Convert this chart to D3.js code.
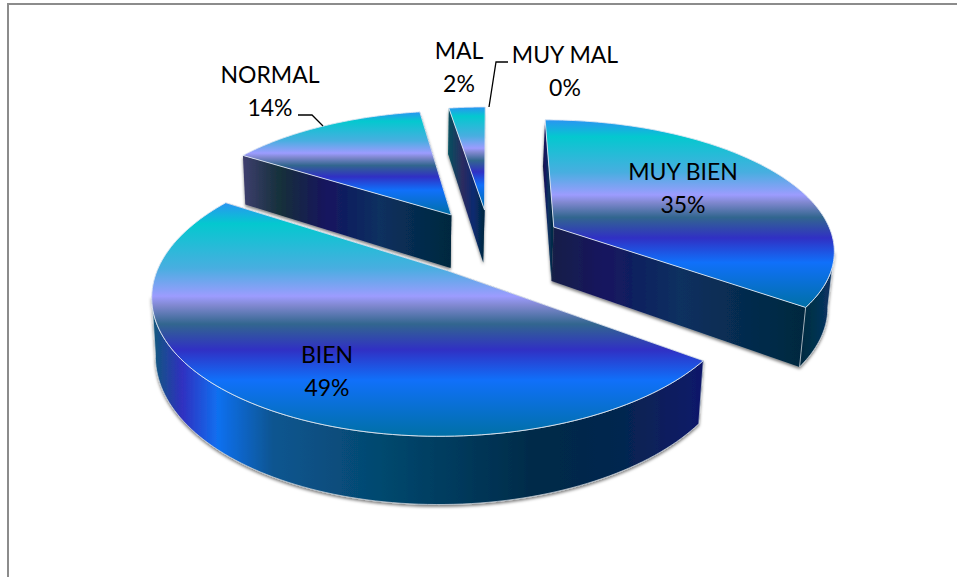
<!DOCTYPE html>
<html>
<head>
<meta charset="utf-8">
<script src="https://cdn.jsdelivr.net/npm/d3@7/dist/d3.min.js"></script>
<style>
html, body { margin: 0; padding: 0; background: #fff; overflow: hidden; }
text { font-family: Lato, "Open Sans", sans-serif; font-size: 23px; fill: #000; text-anchor: middle; }
</style>
</head>
<body>
<svg id="chart" width="957" height="577"></svg>
<script>
var categories = ["MUY BIEN", "BIEN", "NORMAL", "MAL", "MUY MAL"];
// labels show them rounded
var percents = [35, 49, 13.51, 2.49, 0];

var topStops = [[0, "#2a94f2"], [0.09, "#04c8cf"], [0.28, "#48aee0"], [0.40, "#9c9cfe"], [0.44, "#8088d0"], [0.52, "#32668f"], [0.63, "#3030c4"], [0.76, "#1070fa"], [1, "#0070a6"]];
var cutStops = [[0, "#3e3e6e"], [0.18, "#15303a"], [0.4, "#14145e"], [0.65, "#0a3060"], [1, "#02283e"]];
var cutRightStops = [[0, "#182048"], [0.2, "#15155e"], [0.5, "#0a3060"], [1, "#02283e"]];
var cutSmallStops = [[0, "#05505e"], [0.4, "#2c2c60"], [0.7, "#0a2a70"], [1, "#02283e"]];
var outerLeftStops = [[0, "#0f5a78"], [0.055, "#3030c0"], [0.12, "#1070f0"], [0.22, "#0a5590"], [0.42, "#05486e"], [0.7, "#002a48"], [0.85, "#05264f"], [1, "#10186a"]];
var outerRightStops = [[0, "#022a40"], [0.35, "#02304a"], [1, "#0a3468"]];

var svg = d3.select("#chart");

/* Projection of the tilted disc */
var perspective = 0.16;
var explode = 0.26;
var lean = 0.015;
var xScale = d3.scaleLinear().domain([-1, 1]).range([209.5, 770.5]);
var yScale = d3.scaleLinear().domain([0, 1]).range([-563, 242]);
var zScale = d3.scaleLinear().domain([0, 1]).range([0, 55]);
var leanX = 400;

function project(r, angle, mid, z) {
    var X = r * Math.sin(angle) + explode * Math.sin(mid);
    var Y = -r * Math.cos(angle) - explode * Math.cos(mid);
    var w = 1 - perspective * Y;
    var sx = xScale(X / w);
    return [sx + (leanX - sx) * lean * z, yScale(1 / w) + zScale(z) / w];
}

/* Gradients */
var defs = svg.append("defs");
function addGradient(id, stops, vertical) {
    var g = defs.append("linearGradient")
        .attr("id", id)
        .attr("x1", 0).attr("y1", 0)
        .attr("x2", vertical ? 0 : 1)
        .attr("y2", vertical ? 1 : 0);
    g.selectAll("stop")
        .data(stops)
        .enter()
        .append("stop")
        .attr("offset", d => d[0])
        .attr("stop-color", d => d[1]);
}
addGradient("gradTop", topStops, true);
addGradient("gradCut", cutStops, false);
addGradient("gradCutRight", cutRightStops, false);
addGradient("gradCutSmall", cutSmallStops, false);
addGradient("gradOuterLeft", outerLeftStops, false);
addGradient("gradOuterRight", outerRightStops, false);

defs.append("filter")
    .attr("id", "shadow")
    .attr("x", "-10%").attr("y", "-10%")
    .attr("width", "120%").attr("height", "120%")
    .append("feDropShadow")
    .attr("dx", 0).attr("dy", 2)
    .attr("stdDeviation", 1.8)
    .attr("flood-color", "#000")
    .attr("flood-opacity", 0.5);

/* Frame, only top and left are in the picture */
svg.append("path")
    .attr("d", "M8,577V4H957")
    .attr("fill", "none")
    .attr("stroke", "#8c8c8c")
    .attr("stroke-width", 2);

/* Slices */
var pie = d3.pie().sort(null).value(d => d).startAngle(0).endAngle(2 * Math.PI);
var arcs = pie(percents);
var line = d3.line().curve(d3.curveLinear);

function rim(d, z, n) {
    var mid = (d.startAngle + d.endAngle) / 2;
    return d3.range(n + 1).map(i => project(1, d.startAngle + (d.endAngle - d.startAngle) * i / n, mid, z));
}
function cutWall(d, angle) {
    var mid = (d.startAngle + d.endAngle) / 2;
    return [project(0, 0, mid, 0), project(1, angle, mid, 0), project(1, angle, mid, 1), project(0, 0, mid, 1)];
}
// only the part of the rim that faces the viewer, i.e. where x runs backwards
function frontRim(d, n) {
    var upper = rim(d, 0, n);
    var lower = rim(d, 1, n);
    var keep = d3.range(n + 1).filter(k => (k < n && upper[k + 1][0] < upper[k][0]) || (k > 0 && upper[k][0] < upper[k - 1][0]));
    return keep.map(k => upper[k]).concat(keep.map(k => lower[k]).reverse());
}
var cutFill = ["url(#gradCutRight)", "url(#gradCut)", "url(#gradCut)", "url(#gradCutSmall)"];

/* far slices first, BIEN is in front of everything */
var order = [3, 2, 0, 1];
order.forEach(function(i) {
    var d = arcs[i];
    var g = svg.append("g").attr("class", "slice").datum(d);
    var walls = g.append("g").attr("filter", "url(#shadow)");

    // the cut that sits nearer the viewer goes on last
    var angles = [d.startAngle, d.endAngle].sort((a, b) => Math.cos(b) - Math.cos(a));
    angles.forEach(function(a) {
        walls.append("path")
            .attr("d", line(cutWall(d, a)) + "Z")
            .attr("fill", cutFill[i]);
    });

    var front = frontRim(d, 120);
    if (front.length > 0) {
        walls.append("path")
            .attr("d", line(front) + "Z")
            .attr("fill", i === 1 ? "url(#gradOuterLeft)" : "url(#gradOuterRight)")
            .attr("stroke", "#c8d0d8")
            .attr("stroke-width", 0.75);
    }

    var mid = (d.startAngle + d.endAngle) / 2;
    g.append("path")
        .attr("d", line([project(0, 0, mid, 0)].concat(rim(d, 0, 120))) + "Z")
        .attr("fill", "url(#gradTop)")
        .attr("stroke", "#dfe6f2")
        .attr("stroke-width", 0.9);
});

/* Leader lines */
var leader = d3.line();
svg.append("path")
    .attr("d", leader([[489, 107], [496, 62], [508, 62]]))
    .attr("fill", "none").attr("stroke", "#000").attr("stroke-width", 1.3);
svg.append("path")
    .attr("d", leader([[298, 115], [312, 115], [323, 126]]))
    .attr("fill", "none").attr("stroke", "#000").attr("stroke-width", 1.3);

/* Labels */
var labelPos = [[683, 180], [327, 363], [270, 83], [459, 59], [565, 63]];
var labels = svg.selectAll("g.label")
    .data(categories)
    .enter()
    .append("g")
    .attr("class", "label")
    .attr("transform", (d, i) => "translate(" + labelPos[i][0] + "," + labelPos[i][1] + ")");
labels.append("text").text(d => d);
labels.append("text").attr("y", 33).text((d, i) => Math.round(percents[i]) + "%");
</script>
</body>
</html>
